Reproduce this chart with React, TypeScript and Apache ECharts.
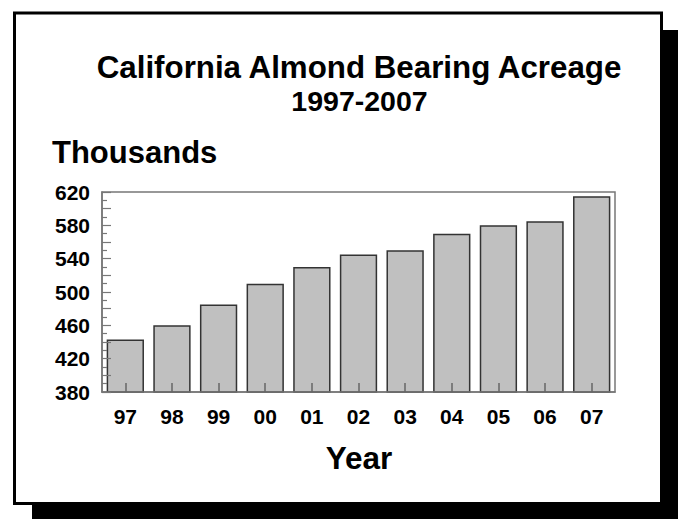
import React, { useEffect, useRef } from "react";
import * as echarts from "echarts";

const years = ["97", "98", "99", "00", "01", "02", "03", "04", "05", "06", "07"];
const acreage = [443, 460, 485, 510, 530, 545, 550, 570, 580, 585, 615];
const yLabelValues = [380, 420, 460, 500, 540, 580, 620];
const titleLine1 = "California Almond Bearing Acreage";
const titleLine2 = "1997-2007";
const yUnit = "Thousands";
const xName = "Year";

const FONT = "'Liberation Sans', Arial, Helvetica, sans-serif";

export default function App() {
  const ref = useRef<HTMLDivElement>(null);
  useEffect(() => {
    if (!ref.current) return;
    const chart = echarts.init(ref.current, undefined, { renderer: "svg" });
    chart.setOption({
      animation: false,
      backgroundColor: "#ffffff",
      graphic: [
        { type: "rect", z: -10, silent: true, shape: { x: 32, y: 30, width: 646, height: 489 }, style: { fill: "#000" } },
        { type: "rect", z: -9, silent: true, shape: { x: 14.5, y: 13, width: 647, height: 490.5 }, style: { fill: "#fff", stroke: "#000", lineWidth: 3 } },
        { type: "text", z: 10, x: 359, y: 67, style: { text: titleLine1, font: `bold 31.3px ${FONT}`, fill: "#000", align: "center", verticalAlign: "middle" } },
        { type: "text", z: 10, x: 359.5, y: 101, style: { text: titleLine2, font: `bold 28.5px ${FONT}`, fill: "#000", align: "center", verticalAlign: "middle" } },
        { type: "text", z: 10, x: 52, y: 152, style: { text: yUnit, font: `bold 31px ${FONT}`, fill: "#000", align: "left", verticalAlign: "middle" } },
        { type: "text", z: 10, x: 359, y: 458, style: { text: xName, font: `bold 31.5px ${FONT}`, fill: "#000", align: "center", verticalAlign: "middle" } },
      ],
      grid: {
        left: 102,
        top: 192,
        width: 513,
        height: 200,
        show: true,
        borderColor: "#777",
        borderWidth: 1.5,
        backgroundColor: "#fff",
        z: 1,
      },
      xAxis: {
        type: "category",
        data: years,
        z: 5,
        axisLine: { show: true, lineStyle: { color: "#777", width: 1.5 } },
        axisTick: { show: true, inside: true, alignWithLabel: true, length: 9, lineStyle: { color: "#666", width: 1.5 } },
        axisLabel: { color: "#000", fontFamily: FONT, fontWeight: "bold", fontSize: 21, margin: 14 },
        splitLine: { show: false },
      },
      yAxis: {
        type: "value",
        min: 380,
        max: 620,
        interval: 20,
        z: 5,
        axisLine: { show: true, lineStyle: { color: "#777", width: 1.5 } },
        axisTick: { show: true, inside: true, length: 9, lineStyle: { color: "#777", width: 1.2 } },
        minorTick: { show: true, splitNumber: 2, length: 5, lineStyle: { color: "#777", width: 1.2 } },
        axisLabel: {
          color: "#000",
          fontFamily: FONT,
          fontWeight: "bold",
          fontSize: 21,
          margin: 12,
          formatter: (v: number) => (yLabelValues.indexOf(v) >= 0 ? String(v) : ""),
        },
        splitLine: { show: false },
      },
      series: [
        {
          type: "bar",
          data: acreage,
          barWidth: "80%",
          z: 3,
          itemStyle: { color: "#c0c0c0", borderColor: "#333", borderWidth: 1.5 },
        },
      ],
    });
    return () => chart.dispose();
  }, []);
  return (
    <div
      ref={ref}
      style={{ position: "fixed", left: 0, top: 0, width: 678, height: 519 }}
    />
  );
}
